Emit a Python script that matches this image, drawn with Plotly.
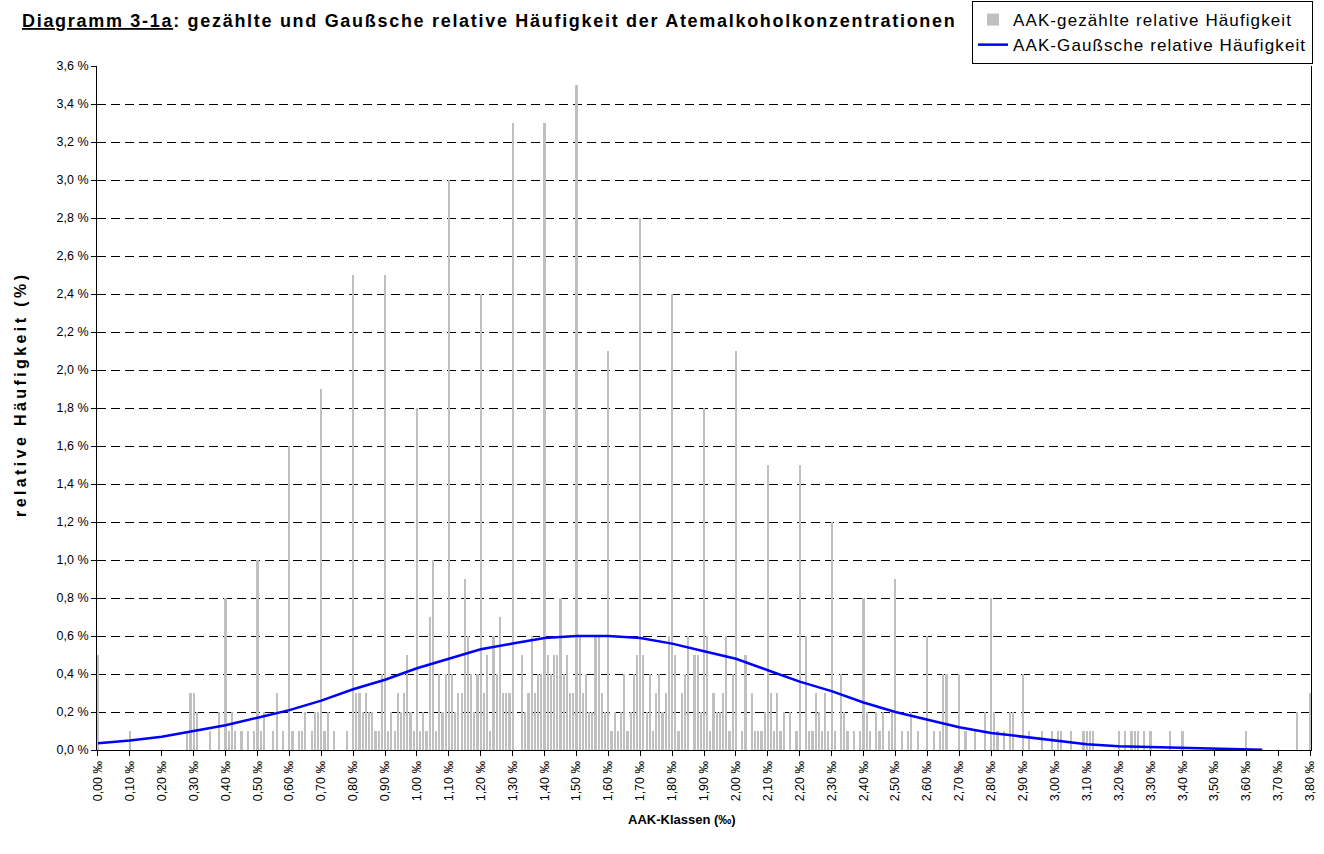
import plotly.graph_objects as go

# AAK classes (per mille) with nonzero counted relative frequency (%)
klassen = [0.00, 0.10, 0.28, 0.29, 0.30, 0.31, 0.35, 0.38, 0.40, 0.41, 0.42, 0.43, 0.45, 0.47, 0.49,
           0.50, 0.51, 0.52, 0.55, 0.56, 0.58, 0.60, 0.61, 0.63, 0.64, 0.65, 0.67, 0.68, 0.69,
           0.70, 0.71, 0.72, 0.74, 0.78, 0.80, 0.81, 0.82, 0.83, 0.84, 0.85, 0.86, 0.87, 0.88, 0.89,
           0.90, 0.91, 0.92, 0.93, 0.94, 0.95, 0.96, 0.97, 0.98, 0.99,
           1.00, 1.01, 1.02, 1.03, 1.04, 1.05, 1.06, 1.07, 1.08, 1.09,
           1.10, 1.11, 1.12, 1.13, 1.14, 1.15, 1.16, 1.17, 1.18, 1.19,
           1.20, 1.21, 1.22, 1.23, 1.24, 1.25, 1.26, 1.27, 1.28, 1.29,
           1.30, 1.33, 1.34, 1.35, 1.36, 1.37, 1.38, 1.39,
           1.40, 1.41, 1.42, 1.43, 1.44, 1.45, 1.46, 1.47, 1.48, 1.49,
           1.50, 1.51, 1.52, 1.53, 1.54, 1.55, 1.56, 1.57, 1.58, 1.59,
           1.60, 1.61, 1.62, 1.63, 1.64, 1.65, 1.66, 1.67, 1.68, 1.69,
           1.70, 1.71, 1.72, 1.73, 1.74, 1.75, 1.76, 1.77, 1.78, 1.79,
           1.80, 1.81, 1.82, 1.83, 1.84, 1.85, 1.87, 1.88, 1.89,
           1.90, 1.91, 1.92, 1.93, 1.94, 1.95, 1.96, 1.97, 1.98, 1.99,
           2.00, 2.02, 2.03, 2.05, 2.06, 2.07, 2.08, 2.09,
           2.10, 2.11, 2.12, 2.13, 2.14, 2.15, 2.17, 2.19,
           2.20, 2.22, 2.23, 2.24, 2.25, 2.26, 2.27, 2.28, 2.29,
           2.30, 2.31, 2.33, 2.34, 2.35, 2.37, 2.39,
           2.40, 2.41, 2.42, 2.44, 2.45, 2.46, 2.48, 2.49,
           2.50, 2.52, 2.54, 2.55, 2.57,
           2.60, 2.62, 2.64, 2.65, 2.66, 2.70, 2.72, 2.75, 2.78,
           2.80, 2.81, 2.82, 2.84, 2.86, 2.87, 2.90, 2.92, 2.96, 2.99,
           3.01, 3.02, 3.05, 3.09, 3.10, 3.11, 3.12, 3.20, 3.22, 3.24, 3.25, 3.26, 3.28,
           3.30, 3.36, 3.40, 3.60, 3.76, 3.80]

gezaehlt = [0.5, 0.1, 0.1, 0.3, 0.3, 0.2, 0.1, 0.2, 0.8, 0.1, 0.2, 0.1, 0.1, 0.1, 0.1,
            1.0, 0.1, 0.2, 0.1, 0.3, 0.1, 1.6, 0.1, 0.1, 0.1, 0.2, 0.1, 0.2, 0.2,
            1.9, 0.1, 0.2, 0.1, 0.1, 2.5, 0.3, 0.3, 0.2, 0.3, 0.2, 0.2, 0.1, 0.1, 0.4,
            2.5, 0.1, 0.2, 0.1, 0.3, 0.2, 0.3, 0.5, 0.2, 0.1,
            1.8, 0.1, 0.2, 0.1, 0.7, 1.0, 0.1, 0.4, 0.2, 0.4,
            3.0, 0.4, 0.2, 0.3, 0.3, 0.9, 0.6, 0.4, 0.2, 0.4,
            2.4, 0.3, 0.5, 0.1, 0.6, 0.4, 0.7, 0.3, 0.3, 0.3,
            3.3, 0.5, 0.2, 0.3, 0.6, 0.3, 0.4, 0.4,
            3.3, 0.5, 0.4, 0.5, 0.5, 0.8, 0.4, 0.5, 0.3, 0.3,
            3.5, 0.6, 0.3, 0.4, 0.2, 0.2, 0.6, 0.6, 0.3, 0.2,
            2.1, 0.1, 0.2, 0.1, 0.2, 0.4, 0.1, 0.2, 0.4, 0.5,
            2.8, 0.5, 0.2, 0.4, 0.1, 0.3, 0.4, 0.2, 0.3, 0.6,
            2.4, 0.5, 0.1, 0.3, 0.4, 0.6, 0.5, 0.5, 0.2,
            1.8, 0.6, 0.1, 0.3, 0.2, 0.2, 0.3, 0.6, 0.1, 0.4,
            2.1, 0.1, 0.5, 0.3, 0.1, 0.1, 0.1, 0.2,
            1.5, 0.3, 0.1, 0.3, 0.1, 0.2, 0.2, 0.1,
            1.5, 0.6, 0.1, 0.1, 0.3, 0.2, 0.1, 0.3, 0.1,
            1.2, 0.1, 0.4, 0.2, 0.1, 0.1, 0.1,
            0.8, 0.2, 0.1, 0.2, 0.1, 0.2, 0.1, 0.2,
            0.9, 0.1, 0.1, 0.2, 0.1,
            0.6, 0.1, 0.1, 0.4, 0.4, 0.4, 0.1, 0.1, 0.2,
            0.8, 0.2, 0.1, 0.1, 0.2, 0.2, 0.4, 0.1, 0.1, 0.1,
            0.1, 0.1, 0.1, 0.1, 0.1, 0.1, 0.1, 0.1, 0.1, 0.1, 0.1, 0.1, 0.1,
            0.1, 0.1, 0.1, 0.1, 0.2, 0.3]

# Gaussian relative frequency (%) read at 0.1 per-mille steps
gauss_x = [0.0, 0.1, 0.2, 0.3, 0.4, 0.5, 0.6, 0.7, 0.8, 0.9, 1.0, 1.1, 1.2, 1.3, 1.4, 1.5,
           1.6, 1.7, 1.8, 1.9, 2.0, 2.1, 2.2, 2.3, 2.4, 2.5, 2.6, 2.7, 2.8, 2.9, 3.0, 3.1,
           3.2, 3.3, 3.4, 3.5, 3.6, 3.65]
gauss_y = [0.035, 0.05, 0.07, 0.10, 0.13, 0.17, 0.21, 0.26, 0.32, 0.37, 0.43, 0.48, 0.53, 0.56,
           0.59, 0.60, 0.60, 0.59, 0.56, 0.52, 0.48, 0.42, 0.36, 0.31, 0.25, 0.20, 0.16, 0.12,
           0.09, 0.07, 0.05, 0.03, 0.02, 0.015, 0.01, 0.005, 0.002, 0.001]

x_ticks = [i / 10 for i in range(39)]
x_ticktext = [f"{v:.2f}".replace(".", ",") + " ‰" for v in x_ticks]
y_ticks = [i / 10 for i in range(0, 37, 2)]
y_ticktext = [f"{v:.1f}".replace(".", ",") + " %" for v in y_ticks]

legend_names = ["AAK-gezählte relative Häufigkeit", "AAK-Gaußsche relative Häufigkeit"]

FONT = "Liberation Sans, Arial, sans-serif"
LEG_SPACING = "<span style='letter-spacing:1.1px'>{}</span>"

fig = go.Figure()
fig.add_trace(go.Bar(
    x=klassen, y=gezaehlt, width=0.0068,
    marker=dict(color="#c0c0c0", line=dict(width=0)),
    name=LEG_SPACING.format(legend_names[0]),
))
fig.add_trace(go.Scatter(
    x=gauss_x, y=gauss_y, mode="lines",
    line=dict(color="#0000ff", width=2.5),
    name=LEG_SPACING.format(legend_names[1]),
))

L, R, T, B = 97, 13, 66, 104
W, H = 1324, 854
pw, ph = W - L - R, H - T - B

def px_x(p):
    return (p - L) / pw

def px_y(p):
    return (H - B - p) / ph

fig.update_layout(
    width=W, height=H,
    margin=dict(l=L, r=R, t=T, b=B, autoexpand=False),
    paper_bgcolor="white", plot_bgcolor="white",
    font=dict(family=FONT, size=12, color="black"),
    bargap=0,
    showlegend=True,
    legend=dict(
        x=px_x(972), y=px_y(1), xanchor="left", yanchor="top",
        bgcolor="white", bordercolor="black", borderwidth=1,
        font=dict(family=FONT, size=17, color="black"),
        itemwidth=30,
    ),
    xaxis=dict(
        range=[-0.003, 3.803], automargin=False,
        tickmode="array", tickvals=x_ticks, ticktext=x_ticktext,
        tickangle=-90, ticks="outside", ticklen=5, tickcolor="black",
        showline=True, linecolor="black", linewidth=1,
        showgrid=False, zeroline=False,
        tickfont=dict(family=FONT, size=12.5, color="black"),
    ),
    yaxis=dict(
        range=[0, 3.6], automargin=False,
        tickmode="array", tickvals=y_ticks, ticktext=y_ticktext,
        ticks="outside", ticklen=5, tickcolor="black",
        showline=True, linecolor="black", linewidth=1, mirror=True,
        showgrid=True, gridcolor="black", gridwidth=1, griddash="9px,5px",
        zeroline=False,
        tickfont=dict(family=FONT, size=12.5, color="black"),
    ),
    annotations=[
        dict(text="<span style='letter-spacing:1.7px'><b><u>Diagramm 3-1a</u>: gezählte und Gaußsche relative Häufigkeit der Atemalkoholkonzentrationen</b></span>",
             xref="paper", yref="paper", x=px_x(20), y=px_y(21),
             xanchor="left", yanchor="middle", showarrow=False,
             font=dict(family=FONT, size=18, color="black")),
        dict(text="<span style='letter-spacing:3.4px'><b>relative Häufigkeit (%)</b></span>",
             xref="paper", yref="paper", x=px_x(20), y=px_y(395),
             xanchor="center", yanchor="middle", textangle=-90, showarrow=False,
             font=dict(family=FONT, size=16, color="black")),
        dict(text="<b>AAK-Klassen (‰)</b>",
             xref="paper", yref="paper", x=px_x(682), y=px_y(819),
             xanchor="center", yanchor="middle", showarrow=False,
             font=dict(family=FONT, size=13, color="black")),
    ],
)

fig.write_html("out.html",
               config={"displayModeBar": False},
               post_script="document.body.style.margin='0';document.body.style.padding='0';")
